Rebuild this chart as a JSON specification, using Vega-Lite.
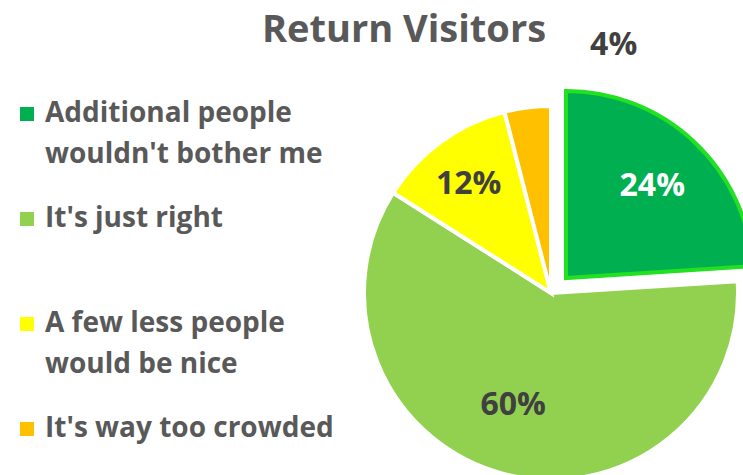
{
  "$schema": "https://vega.github.io/schema/vega-lite/v6.json",
  "autosize": {"type": "none"},
  "padding": {"left": 365, "top": 111, "right": 6, "bottom": 0},
  "width": 372,
  "height": 364,
  "background": "white",
  "config": {
    "style": {"guide-label": {"lineHeight": 41}}
  },
  "title": {
    "text": "Return Visitors",
    "font": "Open Sans",
    "fontSize": 38,
    "fontWeight": "bold",
    "color": "#595959",
    "anchor": "middle",
    "frame": "group",
    "baseline": "alphabetic",
    "dx": -147,
    "offset": -51
  },
  "data": {
    "values": [
      {"cat": "Additional people|wouldn't bother me", "val": 24, "ord": 1, "label": "24%"},
      {"cat": "It's just right", "val": 60, "ord": 2, "label": "60%"},
      {"cat": "A few less people|would be nice", "val": 12, "ord": 3, "label": "12%"},
      {"cat": "It's way too crowded", "val": 4, "ord": 4, "label": "4%"}
    ]
  },
  "encoding": {
    "theta": {"field": "val", "type": "quantitative", "stack": true},
    "order": {"field": "ord", "type": "quantitative"}
  },
  "layer": [
    {
      "mark": {"type": "arc", "radius": 187, "stroke": "white", "strokeWidth": 4},
      "encoding": {
        "color": {
          "field": "cat",
          "type": "nominal",
          "sort": null,
          "scale": {
            "domain": ["Additional people|wouldn't bother me", "It's just right", "A few less people|would be nice", "It's way too crowded"],
            "range": ["#00B050", "#92D050", "#FFFF00", "#FFC000"]
          },
          "legend": {
            "orient": "none",
            "legendX": -352,
            "legendY": -11,
            "title": null,
            "labelExpr": "split(datum.label, '|')",
            "labelFont": "Open Sans",
            "labelFontSize": 28,
            "labelFontWeight": "bold",
            "labelColor": "#595959",
            "labelBaseline": "middle",
            "labelLimit": 500,
            "labelOffset": 4,
            "symbolType": "square",
            "symbolSize": 196,
            "symbolStrokeWidth": 0,
            "gridAlign": "all",
            "rowPadding": 36,
            "encode": {
              "labels": {
                "enter": {"lineHeight": {"value": 41}},
                "update": {"lineHeight": {"value": 41}}
              },
              "symbols": {
                "update": {
                  "stroke": {"signal": "indexof(datum.value, 'Additional') == 0 ? '#22E022' : 'transparent'"},
                  "strokeWidth": {"signal": "indexof(datum.value, 'Additional') == 0 ? 3 : 0"},
                  "size": {"signal": "indexof(datum.value, 'Additional') == 0 ? 289 : 196"}
                }
              }
            }
          }
        },
        "opacity": {"condition": {"test": "datum.ord == 1", "value": 0}, "value": 1}
      }
    },
    {
      "mark": {"type": "arc", "radius": 187, "stroke": "#22E022", "strokeWidth": 4, "xOffset": 15, "yOffset": -15},
      "encoding": {
        "color": {"field": "cat", "type": "nominal", "sort": null},
        "opacity": {"condition": {"test": "datum.ord == 1", "value": 1}, "value": 0}
      }
    },
    {
      "mark": {"type": "text", "radius": 126, "xOffset": 15, "yOffset": -15, "font": "Open Sans", "fontSize": 32, "fontWeight": "bold", "fill": "white"},
      "encoding": {
        "text": {"field": "label"},
        "opacity": {"condition": {"test": "datum.ord == 1", "value": 1}, "value": 0}
      }
    },
    {
      "mark": {"type": "text", "radius": 116, "dx": -9, "font": "Open Sans", "fontSize": 32, "fontWeight": "bold", "fill": "#404040"},
      "encoding": {
        "text": {"field": "label"},
        "opacity": {"condition": {"test": "datum.ord == 2", "value": 1}, "value": 0}
      }
    },
    {
      "mark": {"type": "text", "radius": 135, "dx": -3, "font": "Open Sans", "fontSize": 32, "fontWeight": "bold", "fill": "#404040"},
      "encoding": {
        "text": {"field": "label"},
        "opacity": {"condition": {"test": "datum.ord == 3", "value": 1}, "value": 0}
      }
    },
    {
      "mark": {"type": "text", "radius": 250, "dx": 94, "font": "Open Sans", "fontSize": 32, "fontWeight": "bold", "fill": "#404040"},
      "encoding": {
        "text": {"field": "label"},
        "opacity": {"condition": {"test": "datum.ord == 4", "value": 1}, "value": 0}
      }
    }
  ]
}
